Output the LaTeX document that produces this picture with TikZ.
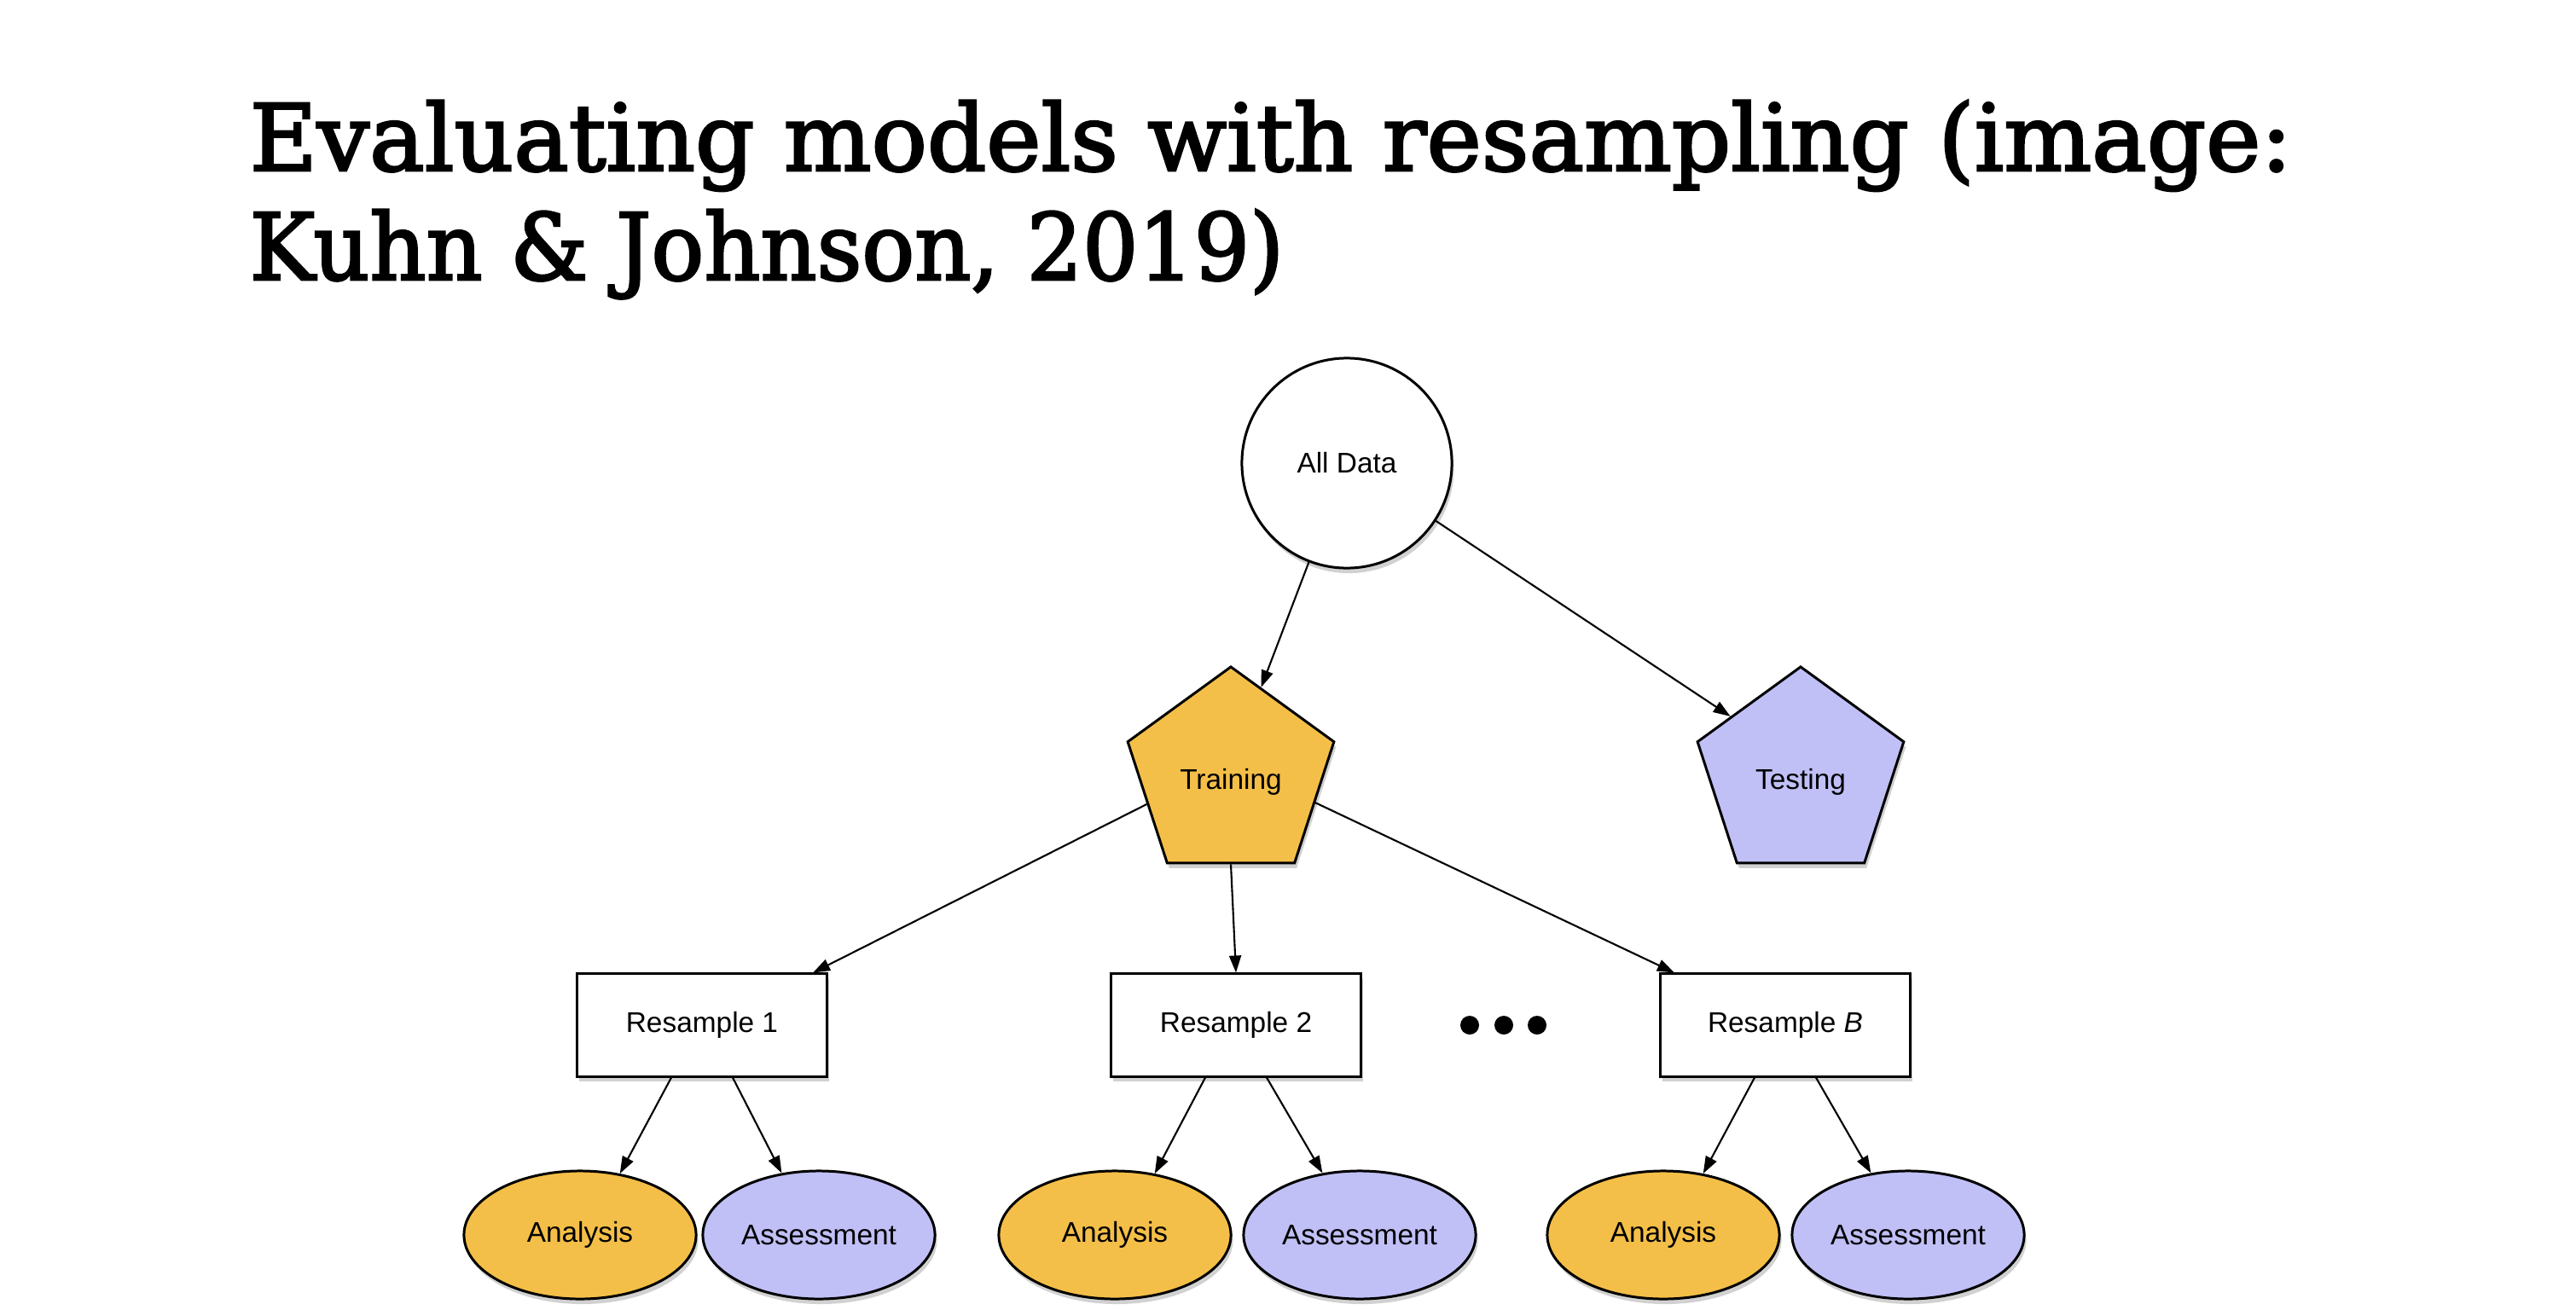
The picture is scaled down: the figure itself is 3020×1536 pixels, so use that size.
\documentclass[tikz,border=0pt]{standalone}
\usepackage{fontspec}
\usepackage{graphicx}
\setmainfont{Liberation Sans}
\newfontfamily\titlefont[FakeBold=2.5]{DejaVu Serif}
\usetikzlibrary{shapes.geometric,arrows.meta,shadows}

\definecolor{trainorange}{HTML}{F4BF48}
\definecolor{testlilac}{HTML}{C0C0F7}

% each title line is stretched to its own width
\newlength\titlewa
\newlength\titlewb
\newcommand\titlesxa{1}
\newcommand\titlesxb{1}
\newcommand\titlesize{\titlefont\fontsize{30.8}{37}\selectfont}
\AtBeginDocument{%
  \settowidth\titlewa{\titlesize Evaluating models with resampling (image:}%
  \settowidth\titlewb{\titlesize Kuhn \& Johnson, 2019)}%
  \pgfmathsetmacro{\titlesxa}{23.93cm/\titlewa}%
  \pgfmathsetmacro{\titlesxb}{12.12cm/\titlewb}%
}

\tikzset{
  every node/.style={font=\fontsize{9.5}{11}\selectfont},
  edge/.style={-{Triangle[length=2mm,width=1.4mm]}, line width=0.6pt},
  nodeline/.style={draw=black, line width=0.85pt},
  softshadow/.style={drop shadow={shadow xshift=0.25mm, shadow yshift=-0.6mm, opacity=0.18, fill=black}},
  datacircle/.style={circle, nodeline, fill=white, softshadow, minimum size=2.46cm, inner sep=0pt},
  splitpent/.style={regular polygon, regular polygon sides=5, nodeline, softshadow, minimum size=2.54cm, inner sep=0pt, text height=0.4cm},
  resbox/.style={rectangle, nodeline, fill=white, softshadow, minimum width=2.93cm, minimum height=1.2cm},
  leaf/.style={ellipse, nodeline, softshadow, minimum width=2.72cm, minimum height=1.5cm, inner sep=0pt},
  dot/.style={circle, fill=black, minimum size=0.22cm, inner sep=0pt},
  titletext/.style={anchor=base west, inner sep=0pt, font=\titlesize}
}

\begin{document}
\begin{tikzpicture}[x=0.01cm, y=-0.01cm]
  \fill[white] (0,0) rectangle (3020,1536);
  \useasboundingbox (0,0) rectangle (3020,1536);

  % title
  \node[titletext] (title1) at (292,200) {\scalebox{\titlesxa}[1]{Evaluating models with resampling (image:}};
  \node[titletext] (title2) at (292,328) {\scalebox{\titlesxb}[1]{Kuhn \& Johnson, 2019)}};

  % data split
  \node[datacircle] (all) at (1579,543) {All Data};
  \node[splitpent, fill=trainorange] (tr) at (1443,909) {Training};
  \node[splitpent, fill=testlilac] (te) at (2111,909) {Testing};

  % resamples
  \node[resbox] (r1) at (823,1202) {Resample 1};
  \node[resbox] (r2) at (1449,1202) {Resample 2};
  \node[resbox] (rB) at (2093,1202) {Resample \textit{B}};

  \node[dot] (d1) at (1723,1202) {};
  \node[dot] (d2) at (1763,1202) {};
  \node[dot] (d3) at (1802,1202) {};

  % analysis / assessment sets
  \node[leaf, fill=trainorange] (an1) at (680,1448) {Analysis};
  \node[leaf, fill=testlilac]   (as1) at (960,1448) {Assessment};
  \node[leaf, fill=trainorange] (an2) at (1307,1448) {Analysis};
  \node[leaf, fill=testlilac]   (as2) at (1594,1448) {Assessment};
  \node[leaf, fill=trainorange] (anB) at (1950,1448) {Analysis};
  \node[leaf, fill=testlilac]   (asB) at (2237,1448) {Assessment};

  % connectors
  \draw[edge] (all.249) -- (tr.71);
  \draw[edge] (all.-33) -- (te.140);
  \draw[edge] (tr.199) -- ([xshift=1.3cm]r1.north);
  \draw[edge] (tr.south) -- (r2.north);
  \draw[edge] (tr.-18) -- ([xshift=-1.3cm]rB.north);
  \foreach \r/\a/\s in {r1/an1/as1, r2/an2/as2, rB/anB/asB}{
    \draw[edge] ([xshift=-0.36cm]\r.south) -- (\a.57);
    \draw[edge] ([xshift=0.36cm]\r.south) -- (\s.121);
  }
\end{tikzpicture}
\end{document}
